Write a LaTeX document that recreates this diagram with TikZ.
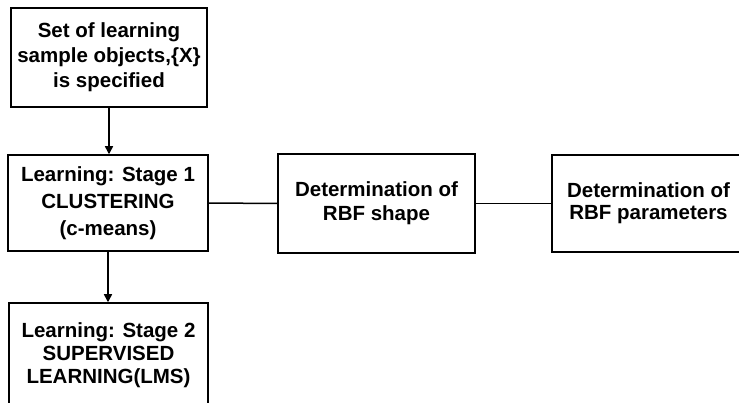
\documentclass[tikz,border=0pt]{standalone}
\usepackage{fontspec}
\setmainfont{Liberation Sans}
\usetikzlibrary{arrows.meta}
\begin{document}
\begin{tikzpicture}[x=1pt,y=-1pt,
  box/.style={draw=black, line width=1.5pt, inner sep=0pt, align=center, text=black},
  txt/.style={font=\bfseries\fontsize{20.5}{#1}\selectfont},
  link/.style={draw=black, line width=1.5pt},
  arr/.style={link, -{Triangle[length=8pt,width=8pt]}}]
\useasboundingbox (0,0) rectangle (739,403);
\clip (0,0) rectangle (739,403);
\node[box, txt=25, minimum width=196pt, minimum height=99pt] (A) at (109,57.5) {Set of learning\\sample objects,\{X\}\\is specified};
\node[box, txt=27, minimum width=200pt, minimum height=96pt] (B) at (108,203) {Learning: Stage 1\\CLUSTERING\\(c-means)};
\node[box, txt=24, minimum width=197pt, minimum height=99pt] (C) at (376.5,203.5) {Determination of\\RBF shape};
\node[box, txt=22, minimum width=193pt, minimum height=97pt] (D) at (648.5,203.5) {Determination of\\RBF parameters};
\node[box, txt=23, minimum width=199pt, minimum height=104pt] (E) at (108.5,355) {Learning: Stage 2\\SUPERVISED\\LEARNING(LMS)};
\draw[arr] (A.south) -- (A.south |- B.north);
\draw[link] (B.east) -- (C.west);
\draw[link] (C.east) -- (D.west);
\draw[arr] (B.south) -- (B.south |- E.north);
\end{tikzpicture}
\end{document}
